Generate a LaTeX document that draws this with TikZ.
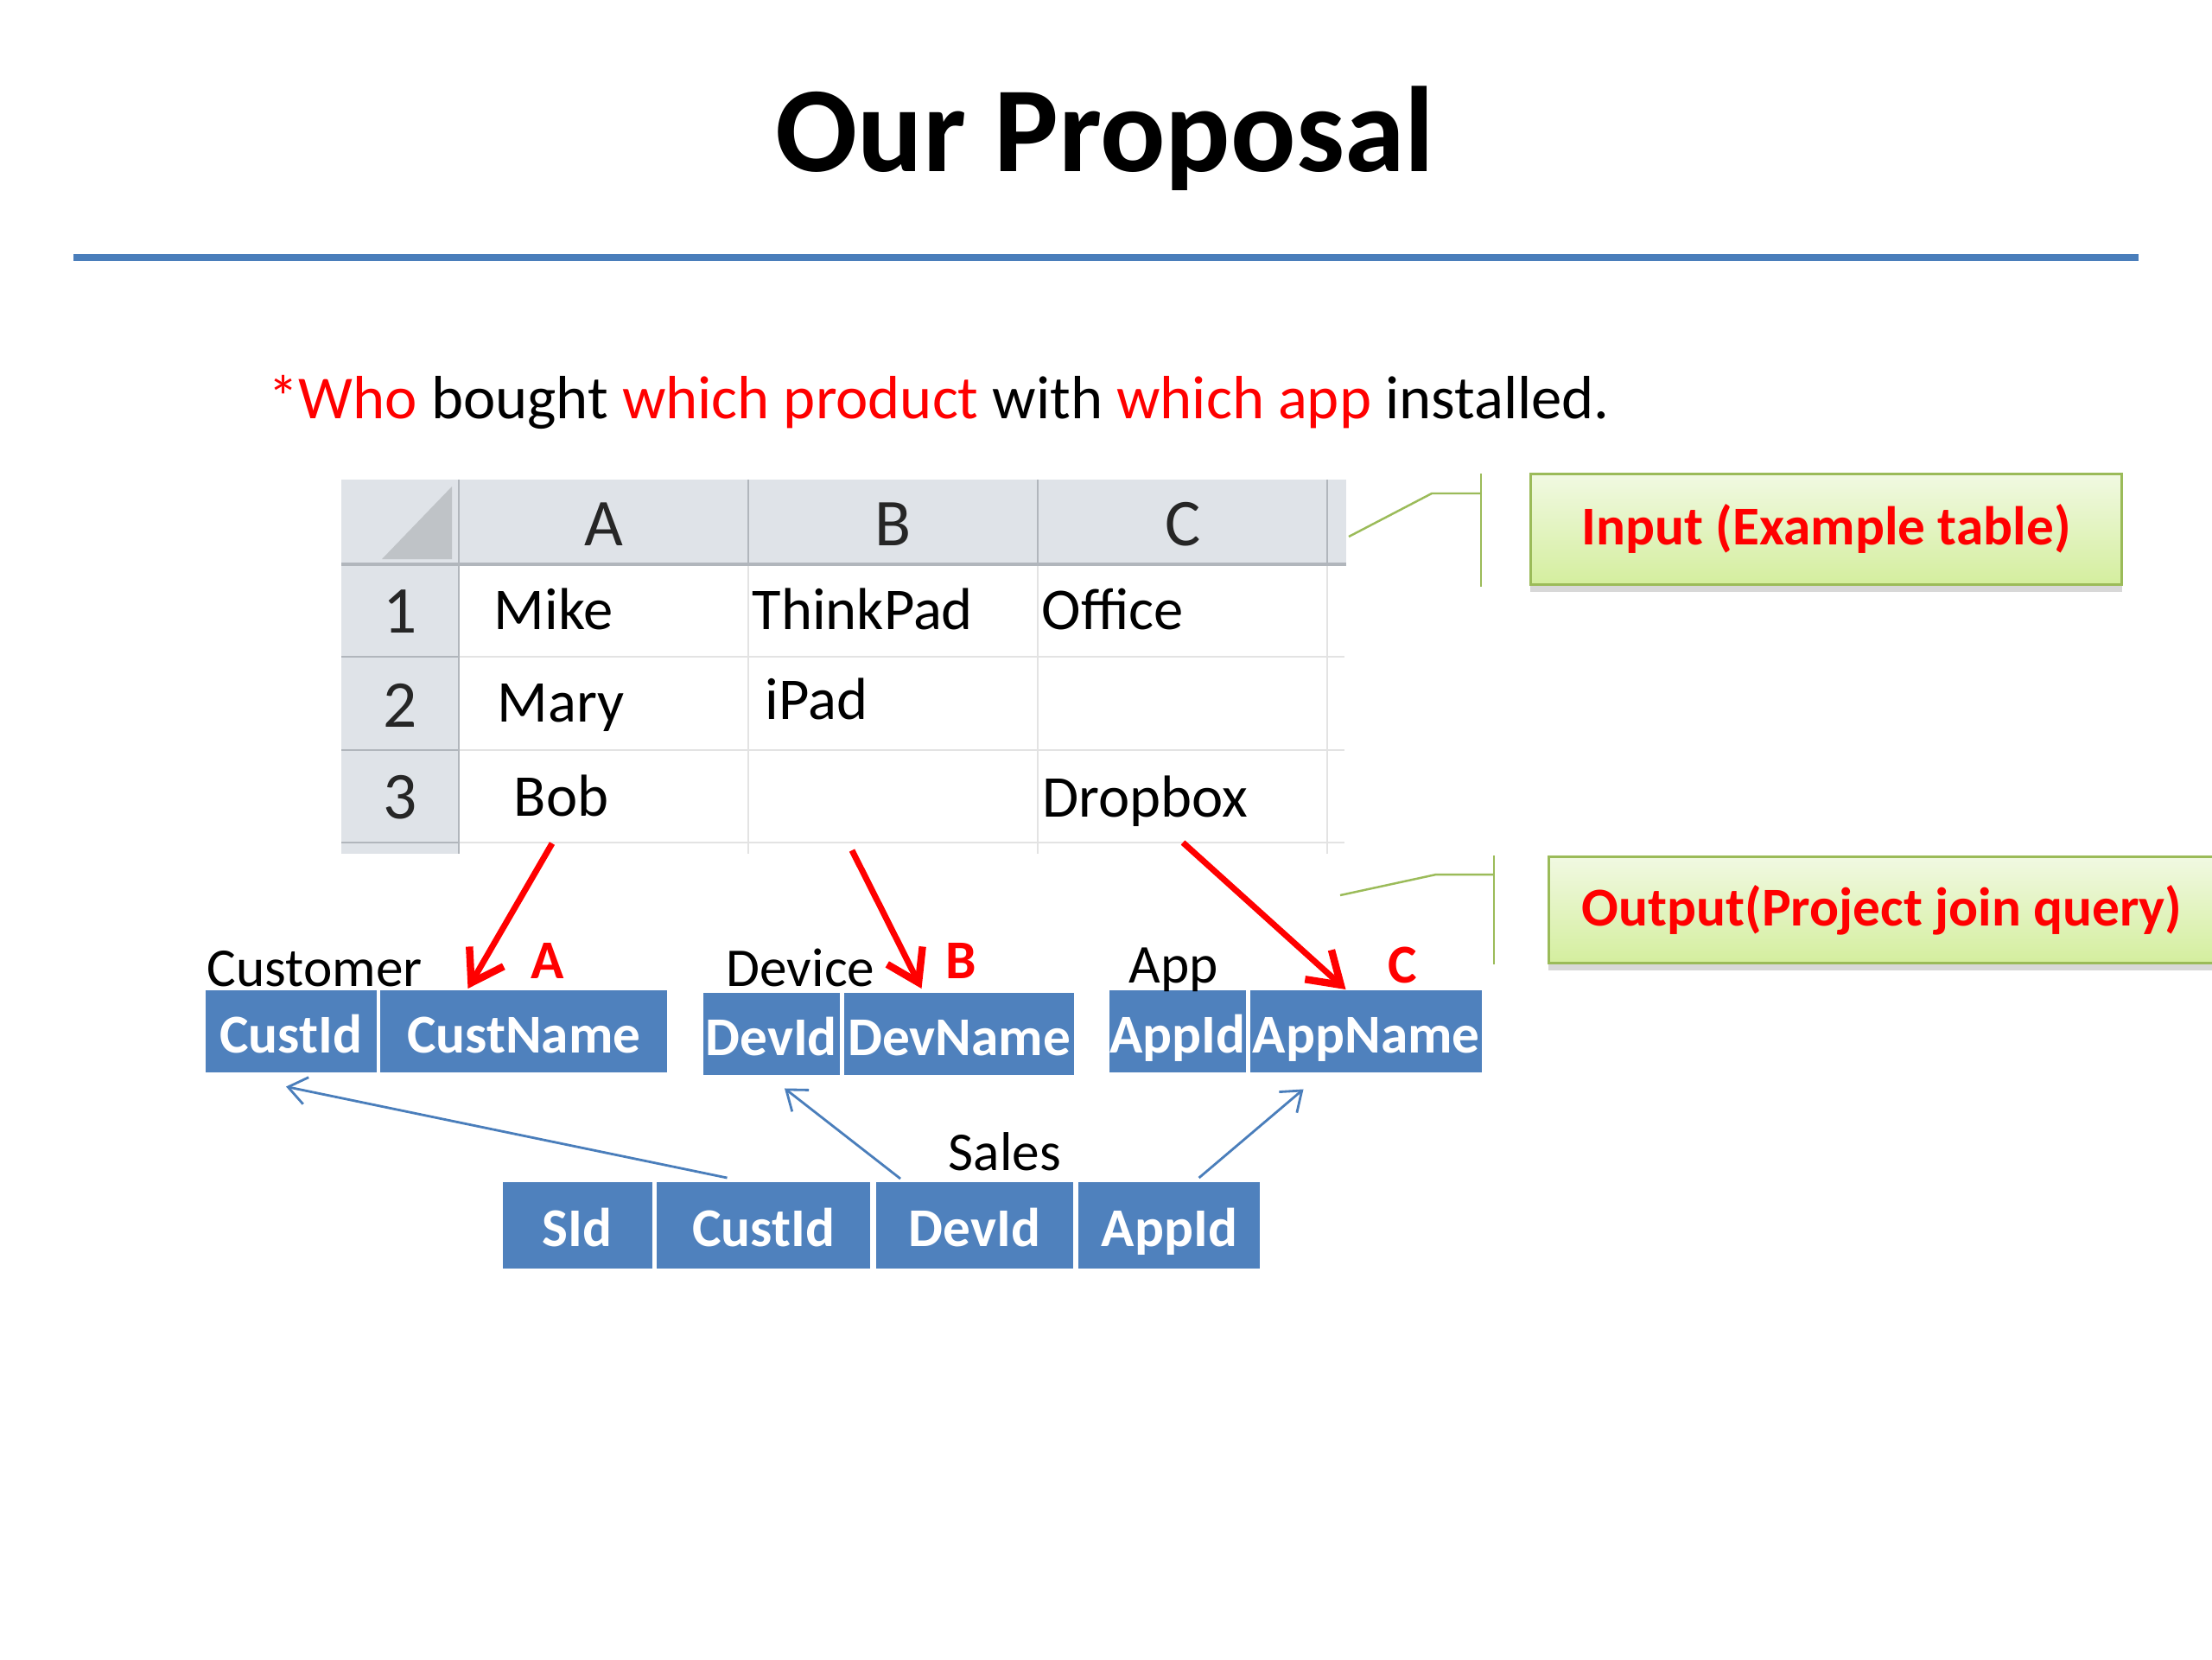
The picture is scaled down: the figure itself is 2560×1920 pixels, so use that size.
\documentclass[tikz,border=0pt]{standalone}
\usepackage{fontspec}
\setmainfont{Carlito}
\usetikzlibrary{positioning,calc,arrows.meta,shadows}

\definecolor{rulebl}{HTML}{4A7EBB}
\definecolor{fieldbl}{HTML}{4F81BD}
\definecolor{sheethd}{HTML}{DFE3E8}
\definecolor{sheetln}{HTML}{E3E3E3}
\definecolor{sheethl}{HTML}{B1B6BC}
\definecolor{cornertri}{HTML}{BFC3C7}
\definecolor{notegreen}{HTML}{9BBB59}
\definecolor{notetop}{HTML}{F1F9E2}
\definecolor{notebot}{HTML}{D4EE9E}

\begin{document}
\begin{tikzpicture}[
        x=0.01cm, y=-0.01cm,
        hdr/.style={font=\fontsize{22}{26}\selectfont, text=black!85, anchor=base, inner sep=0pt},
        cell/.style={font=\fontsize{19.5}{23}\selectfont, anchor=base west, inner sep=0pt},
        field/.style={fill=fieldbl, text=white, font=\fontsize{18}{22}\selectfont\bfseries, inner sep=0pt, minimum height=0.95cm, text height=0.5cm, text depth=0pt},
        tablbl/.style={font=\fontsize{18}{22}\selectfont, anchor=base west, inner sep=0pt},
        tag/.style={text=red, font=\fontsize{18}{22}\selectfont\bfseries, anchor=base, inner sep=0pt},
        note/.style={draw=notegreen, line width=0.8pt, top color=notetop, bottom color=notebot, text=red, font=\fontsize{18}{22}\selectfont\bfseries, anchor=north west, drop shadow={shadow xshift=0pt, shadow yshift=-2.5pt, opacity=0.3}},
        lead/.style={draw=notegreen, line width=0.7pt},
        pick/.style={red, line width=2pt, -{Straight Barb[length=10pt,width=13pt,line width=2.4pt]}},
        fk/.style={rulebl, line width=0.8pt, -{Straight Barb[length=6pt,width=9pt]}}
    ]
    \useasboundingbox (0,0) rectangle (2560,1920);
    \fill[white] (0,0) rectangle (2560,1920);

    % --- Title ---
    \node[anchor=base, font=\fontsize{40}{48}\selectfont\bfseries] (title) at (1279,198) {Our Proposal};
    \coordinate (ruleL) at (85,298);
    \coordinate (ruleR) at (2475,298);
    \draw[rulebl, line width=2pt] (ruleL) -- (ruleR);

    \node[anchor=base west, inner sep=0pt, font=\fontsize{20.1}{24}\selectfont] (question) at (310,484)
        {\textcolor{red}{*Who} bought \textcolor{red}{which product} with \textcolor{red}{which app} installed.};

    % --- Example sheet ---
    \fill[sheethd] (395,555) rectangle (1558,653);
    \fill[sheethd] (395,653) rectangle (531,988);
    \fill[cornertri] (442,647) -- (523,647) -- (523,563) -- cycle;
    \draw[sheetln, line width=0.6pt] (531,760) -- (1556,760) (531,868) -- (1556,868) (531,975) -- (1556,975)
        (866,653) -- (866,988) (1201,653) -- (1201,988) (1536,653) -- (1536,988);
    \draw[sheethl, line width=0.6pt] (531,555) -- (531,988) (866,555) -- (866,653) (1201,555) -- (1201,653)
        (1536,555) -- (1536,653) (395,760) -- (531,760) (395,868) -- (531,868) (395,975) -- (531,975);
    \draw[sheethl, line width=1pt] (395,653) -- (1558,653);

    \node[hdr] (colA) at (699,631) {A};
    \node[hdr] (colB) at (1034,631) {B};
    \node[hdr] (colC) at (1369,631) {C};
    \node[hdr] (row1) at (463,732) {1};
    \node[hdr] (row2) at (463,841) {2};
    \node[hdr] (row3) at (463,947) {3};

    \node[cell] (mike) at (571,728) {Mike};
    \node[cell] (thinkpad) at (870,728) {ThinkPad};
    \node[cell] (office) at (1205,728) {Office};
    \node[cell] (mary) at (575,835) {Mary};
    \node[cell] (ipad) at (885,832) {iPad};
    \node[cell] (bob) at (594,944) {Bob};
    \node[cell] (dropbox) at (1206,945) {Dropbox};

    \coordinate (srcA) at (639,976);
    \coordinate (srcB) at (986,984);
    \coordinate (srcC) at (1369,975);

    % --- Notes ---
    \node[note, minimum width=6.84cm, minimum height=1.28cm] (input) at (1770,547) {Input (Example table)};
    \node[note, minimum width=7.71cm, minimum height=1.23cm] (output) at (1791,990) {Output(Project join query)};
    \coordinate (inEnd) at (1561,621);
    \coordinate (outEnd) at (1551,1036);
    \draw[lead] ($(input.north west)+(-56,1)$) -- ($(input.south west)+(-56,1)$);
    \draw[lead] (inEnd) -- ($(input.north west)+(-113,24)$) -- ($(input.north west)+(-56,24)$);
    \draw[lead] ($(output.north west)+(-62,0)$) -- ($(output.south west)+(-62,0)$);
    \draw[lead] (outEnd) -- ($(output.north west)+(-129,22)$) -- ($(output.north west)+(-62,22)$);

    % --- Tables ---
    \node[field, minimum width=1.98cm, anchor=north west] (custid) at (237,1145) {CustId};
    \node[field, minimum width=3.32cm, right=0.03cm of custid] (custname) {CustName};
    \node[field, minimum width=1.58cm, anchor=north west] (devid) at (813,1148) {DevId};
    \node[field, minimum width=2.66cm, right=0.04cm of devid] (devname) {DevName};
    \node[field, minimum width=1.58cm, anchor=north west] (appid) at (1283,1145) {AppId};
    \node[field, minimum width=2.68cm, right=0.04cm of appid] (appname) {AppName};

    \node[field, minimum height=1cm, minimum width=1.73cm, anchor=north west] (sid) at (581,1367) {SId};
    \node[field, minimum height=1cm, minimum width=2.47cm, right=0.04cm of sid] (scust) {CustId};
    \node[field, minimum height=1cm, minimum width=2.28cm, right=0.05cm of scust] (sdev) {DevId};
    \node[field, minimum height=1cm, minimum width=2.1cm, right=0.05cm of sdev] (sapp) {AppId};

    \node[tablbl] (customer) at (239,1141) {Customer};
    \node[tablbl] (device) at (840,1141) {Device};
    \node[tablbl] (app) at (1306,1137) {App};
    \node[tablbl] (sales) at (1097,1354) {Sales};

    \node[tag] (tagA) at (634,1132) {A};
    \node[tag] (tagB) at (1112,1132) {B};
    \node[tag] (tagC) at (1623,1137) {C};

    % --- Connections ---
    \draw[pick] (srcA) -- ($(custname.north west)+(102,-1)$);
    \draw[pick] (srcB) -- ($(devname.north west)+(90,-4)$);
    \draw[pick] (srcC) -- ($(appname.north west)+(111,0)$);

    \draw[fk] ($(scust.north west)+(82,-4)$) -- ($(custid.south west)+(94,16)$);
    \draw[fk] ($(sdev.north west)+(29,-3)$) -- ($(devid.south west)+(95,15)$);
    \draw[fk] ($(sapp.north west)+(140,-4)$) -- ($(appname.south west)+(62,19)$);

\end{tikzpicture}
\end{document}
